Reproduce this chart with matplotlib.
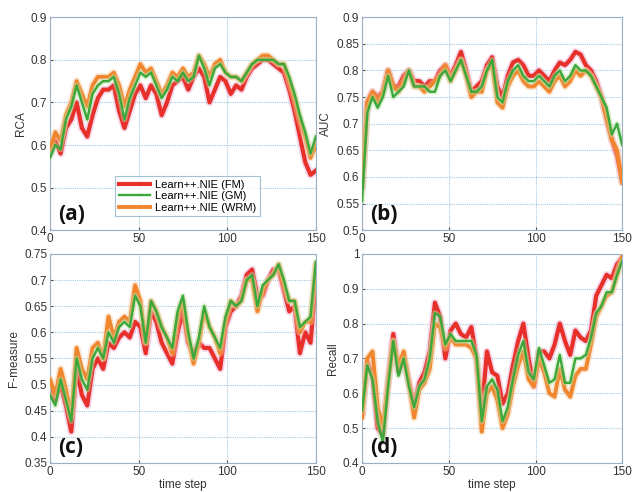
import numpy as np
import matplotlib
matplotlib.use('Agg')
import matplotlib.pyplot as plt

plt.rcParams['font.family'] = ['Liberation Sans', 'DejaVu Sans']

time_step = np.arange(0, 151, 3)

labels = ['Learn++.NIE (FM)', 'Learn++.NIE (GM)', 'Learn++.NIE (WRM)']

rca_fm = [0.58, 0.61, 0.58, 0.64, 0.66, 0.70, 0.64, 0.62, 0.67, 0.71, 0.73, 0.73, 0.74,
          0.68, 0.64, 0.68, 0.72, 0.74, 0.71, 0.74, 0.72, 0.67, 0.70, 0.74, 0.75, 0.76,
          0.73, 0.76, 0.78, 0.76, 0.70, 0.73, 0.76, 0.75, 0.72, 0.74, 0.73, 0.76, 0.78,
          0.79, 0.80, 0.80, 0.79, 0.78, 0.77, 0.73, 0.68, 0.62, 0.56, 0.53, 0.54]
rca_gm = [0.57, 0.60, 0.59, 0.66, 0.69, 0.74, 0.70, 0.66, 0.72, 0.74, 0.75, 0.75, 0.76,
          0.72, 0.66, 0.71, 0.74, 0.77, 0.76, 0.77, 0.74, 0.71, 0.73, 0.76, 0.75, 0.77,
          0.75, 0.76, 0.81, 0.78, 0.74, 0.78, 0.79, 0.77, 0.76, 0.76, 0.75, 0.77, 0.79,
          0.80, 0.80, 0.80, 0.80, 0.79, 0.79, 0.76, 0.72, 0.67, 0.63, 0.58, 0.62]
rca_wrm = [0.59, 0.63, 0.61, 0.67, 0.70, 0.75, 0.72, 0.69, 0.74, 0.76, 0.76, 0.76, 0.77,
           0.74, 0.69, 0.73, 0.76, 0.79, 0.77, 0.78, 0.75, 0.72, 0.74, 0.77, 0.76, 0.78,
           0.76, 0.77, 0.81, 0.79, 0.76, 0.79, 0.80, 0.77, 0.76, 0.76, 0.75, 0.77, 0.79,
           0.80, 0.81, 0.81, 0.80, 0.79, 0.79, 0.75, 0.71, 0.66, 0.62, 0.57, 0.60]

auc_fm = [0.58, 0.74, 0.76, 0.75, 0.76, 0.80, 0.77, 0.77, 0.79, 0.80, 0.78, 0.78, 0.77,
          0.78, 0.78, 0.80, 0.81, 0.79, 0.81, 0.835, 0.80, 0.76, 0.77, 0.78, 0.81, 0.825,
          0.77, 0.75, 0.79, 0.815, 0.82, 0.81, 0.79, 0.79, 0.80, 0.79, 0.78, 0.80, 0.815,
          0.81, 0.82, 0.835, 0.83, 0.81, 0.80, 0.78, 0.75, 0.71, 0.67, 0.64, 0.59]
auc_gm = [0.555, 0.72, 0.75, 0.73, 0.75, 0.79, 0.75, 0.76, 0.77, 0.80, 0.77, 0.77, 0.77,
          0.76, 0.76, 0.79, 0.80, 0.78, 0.80, 0.82, 0.79, 0.76, 0.76, 0.77, 0.80, 0.82,
          0.75, 0.74, 0.78, 0.80, 0.81, 0.79, 0.78, 0.78, 0.79, 0.78, 0.77, 0.79, 0.80,
          0.78, 0.79, 0.81, 0.80, 0.80, 0.79, 0.77, 0.75, 0.73, 0.68, 0.70, 0.66]
auc_wrm = [0.58, 0.74, 0.76, 0.74, 0.76, 0.80, 0.77, 0.76, 0.78, 0.80, 0.77, 0.77, 0.76,
           0.77, 0.78, 0.79, 0.81, 0.78, 0.80, 0.82, 0.79, 0.75, 0.76, 0.76, 0.80, 0.81,
           0.74, 0.73, 0.77, 0.79, 0.80, 0.78, 0.77, 0.77, 0.78, 0.77, 0.76, 0.78, 0.79,
           0.77, 0.78, 0.80, 0.79, 0.80, 0.79, 0.77, 0.75, 0.71, 0.67, 0.65, 0.59]

fmeas_fm = [0.50, 0.47, 0.50, 0.46, 0.41, 0.53, 0.48, 0.46, 0.53, 0.55, 0.53, 0.58, 0.57,
            0.59, 0.60, 0.59, 0.62, 0.61, 0.56, 0.64, 0.62, 0.58, 0.56, 0.54, 0.60, 0.64,
            0.58, 0.56, 0.58, 0.57, 0.57, 0.55, 0.53, 0.61, 0.64, 0.65, 0.67, 0.71, 0.72,
            0.67, 0.67, 0.70, 0.72, 0.72, 0.68, 0.64, 0.65, 0.56, 0.60, 0.58, 0.70]
fmeas_gm = [0.48, 0.46, 0.51, 0.47, 0.43, 0.55, 0.51, 0.49, 0.55, 0.57, 0.55, 0.60, 0.58,
            0.61, 0.62, 0.61, 0.67, 0.65, 0.58, 0.66, 0.64, 0.61, 0.59, 0.57, 0.64, 0.67,
            0.60, 0.55, 0.59, 0.65, 0.61, 0.59, 0.57, 0.63, 0.66, 0.65, 0.66, 0.70, 0.71,
            0.65, 0.69, 0.70, 0.71, 0.73, 0.70, 0.66, 0.66, 0.61, 0.62, 0.63, 0.735]
fmeas_wrm = [0.51, 0.48, 0.53, 0.49, 0.44, 0.57, 0.53, 0.51, 0.57, 0.58, 0.55, 0.63, 0.59,
             0.62, 0.63, 0.62, 0.69, 0.66, 0.58, 0.66, 0.64, 0.61, 0.59, 0.56, 0.63, 0.66,
             0.59, 0.54, 0.58, 0.64, 0.61, 0.59, 0.56, 0.62, 0.66, 0.65, 0.66, 0.70, 0.70,
             0.64, 0.68, 0.70, 0.71, 0.73, 0.69, 0.66, 0.66, 0.60, 0.62, 0.62, 0.73]

recall_fm = [0.54, 0.69, 0.65, 0.50, 0.48, 0.63, 0.77, 0.66, 0.70, 0.63, 0.57, 0.63, 0.66,
             0.72, 0.86, 0.82, 0.70, 0.78, 0.80, 0.77, 0.76, 0.79, 0.70, 0.55, 0.72, 0.66,
             0.65, 0.57, 0.60, 0.68, 0.75, 0.80, 0.70, 0.62, 0.72, 0.72, 0.70, 0.74, 0.80,
             0.75, 0.71, 0.78, 0.76, 0.75, 0.78, 0.88, 0.91, 0.94, 0.93, 0.97, 0.99]
recall_gm = [0.55, 0.68, 0.64, 0.52, 0.46, 0.62, 0.75, 0.65, 0.70, 0.62, 0.56, 0.62, 0.64,
             0.70, 0.83, 0.82, 0.74, 0.77, 0.75, 0.75, 0.75, 0.75, 0.71, 0.52, 0.62, 0.64,
             0.61, 0.52, 0.56, 0.64, 0.71, 0.75, 0.66, 0.64, 0.73, 0.68, 0.63, 0.64, 0.71,
             0.63, 0.63, 0.70, 0.70, 0.71, 0.76, 0.83, 0.85, 0.89, 0.89, 0.94, 0.98]
recall_wrm = [0.53, 0.70, 0.72, 0.56, 0.50, 0.63, 0.75, 0.68, 0.72, 0.63, 0.53, 0.61, 0.63,
              0.67, 0.80, 0.79, 0.73, 0.76, 0.74, 0.74, 0.74, 0.73, 0.70, 0.49, 0.60, 0.62,
              0.58, 0.50, 0.54, 0.62, 0.68, 0.72, 0.64, 0.62, 0.70, 0.66, 0.60, 0.59, 0.67,
              0.61, 0.59, 0.65, 0.67, 0.67, 0.74, 0.82, 0.85, 0.88, 0.89, 0.94, 0.99]

panels = [
    ('RCA', '(a)', (0.4, 0.9), [0.4, 0.5, 0.6, 0.7, 0.8, 0.9], ['0.4', '0.5', '0.6', '0.7', '0.8', '0.9'],
     [rca_fm, rca_gm, rca_wrm]),
    ('AUC', '(b)', (0.5, 0.9), [0.5, 0.55, 0.6, 0.65, 0.7, 0.75, 0.8, 0.85, 0.9],
     ['0.5', '0.55', '0.6', '0.65', '0.7', '0.75', '0.8', '0.85', '0.9'],
     [auc_fm, auc_gm, auc_wrm]),
    ('F-measure', '(c)', (0.35, 0.75), [0.35, 0.4, 0.45, 0.5, 0.55, 0.6, 0.65, 0.7, 0.75],
     ['0.35', '0.4', '0.45', '0.5', '0.55', '0.6', '0.65', '0.7', '0.75'],
     [fmeas_fm, fmeas_gm, fmeas_wrm]),
    ('Recall', '(d)', (0.4, 1.0), [0.4, 0.5, 0.6, 0.7, 0.8, 0.9, 1.0], ['0.4', '0.5', '0.6', '0.7', '0.8', '0.9', '1'],
     [recall_fm, recall_gm, recall_wrm]),
]

colors = ['#e8302a', '#3aa83a', '#f0862e']
glows = ['#e9a6d0', '#b8e0a0', '#f8c89a']
widths = [3.0, 1.7, 2.8]
zorders = [2, 4, 3]

boxes = [
    [0.079, 0.532, 0.420, 0.433],
    [0.572, 0.532, 0.411, 0.433],
    [0.079, 0.059, 0.420, 0.425],
    [0.572, 0.059, 0.411, 0.425],
]

fig = plt.figure(figsize=(6.33, 4.92), dpi=100)
for i, (ylab, tag, ylim, yticks, yticklabels, series) in enumerate(panels):
    ax = fig.add_axes(boxes[i])
    handles = []
    for k, vals in enumerate(series):
        ax.plot(time_step, vals, color=glows[k], linewidth=widths[k] + 2.5, alpha=0.45,
                zorder=zorders[k], solid_capstyle='round')
        h, = ax.plot(time_step, vals, color=colors[k], linewidth=widths[k],
                     zorder=zorders[k] + 0.5, label=labels[k], solid_joinstyle='round')
        handles.append(h)
    ax.set_xlim(0, 150)
    ax.set_ylim(*ylim)
    ax.set_xticks([0, 50, 100, 150])
    ax.set_xticklabels(['0', '50', '100', '150'])
    ax.set_yticks(yticks)
    ax.set_yticklabels(yticklabels)
    ax.tick_params(labelsize=8.5, length=2, direction='in', pad=2, colors='#555555',
                   labelcolor='#333333')
    ax.grid(True, color='#a9c9e0', linestyle=(0, (1, 1)), linewidth=0.8)
    ax.set_axisbelow(True)
    for sp in ax.spines.values():
        sp.set_color('#9ab0c4')
        sp.set_linewidth(0.8)
    ax.set_ylabel(ylab, fontsize=8.5, color='#333333', labelpad=3)
    if i >= 2:
        ax.set_xlabel('time step', fontsize=8.5, color='#333333', labelpad=1)
    ax.text(0.03, 0.05, tag, transform=ax.transAxes, fontsize=15, fontweight='bold',
            color='#111111', family=['Open Sans', 'DejaVu Sans'], zorder=6)
    if i == 0:
        leg = ax.legend(handles=handles, loc='lower left', bbox_to_anchor=(0.225, 0.04),
                        fontsize=8, handlelength=2.8, frameon=True, fancybox=False,
                        borderpad=0.3, labelspacing=0.15, handletextpad=0.5)
        leg.get_frame().set_edgecolor('#8fb0c8')
        leg.get_frame().set_linewidth(0.8)
        leg.set_zorder(7)

fig.savefig('out.png', dpi=100)
